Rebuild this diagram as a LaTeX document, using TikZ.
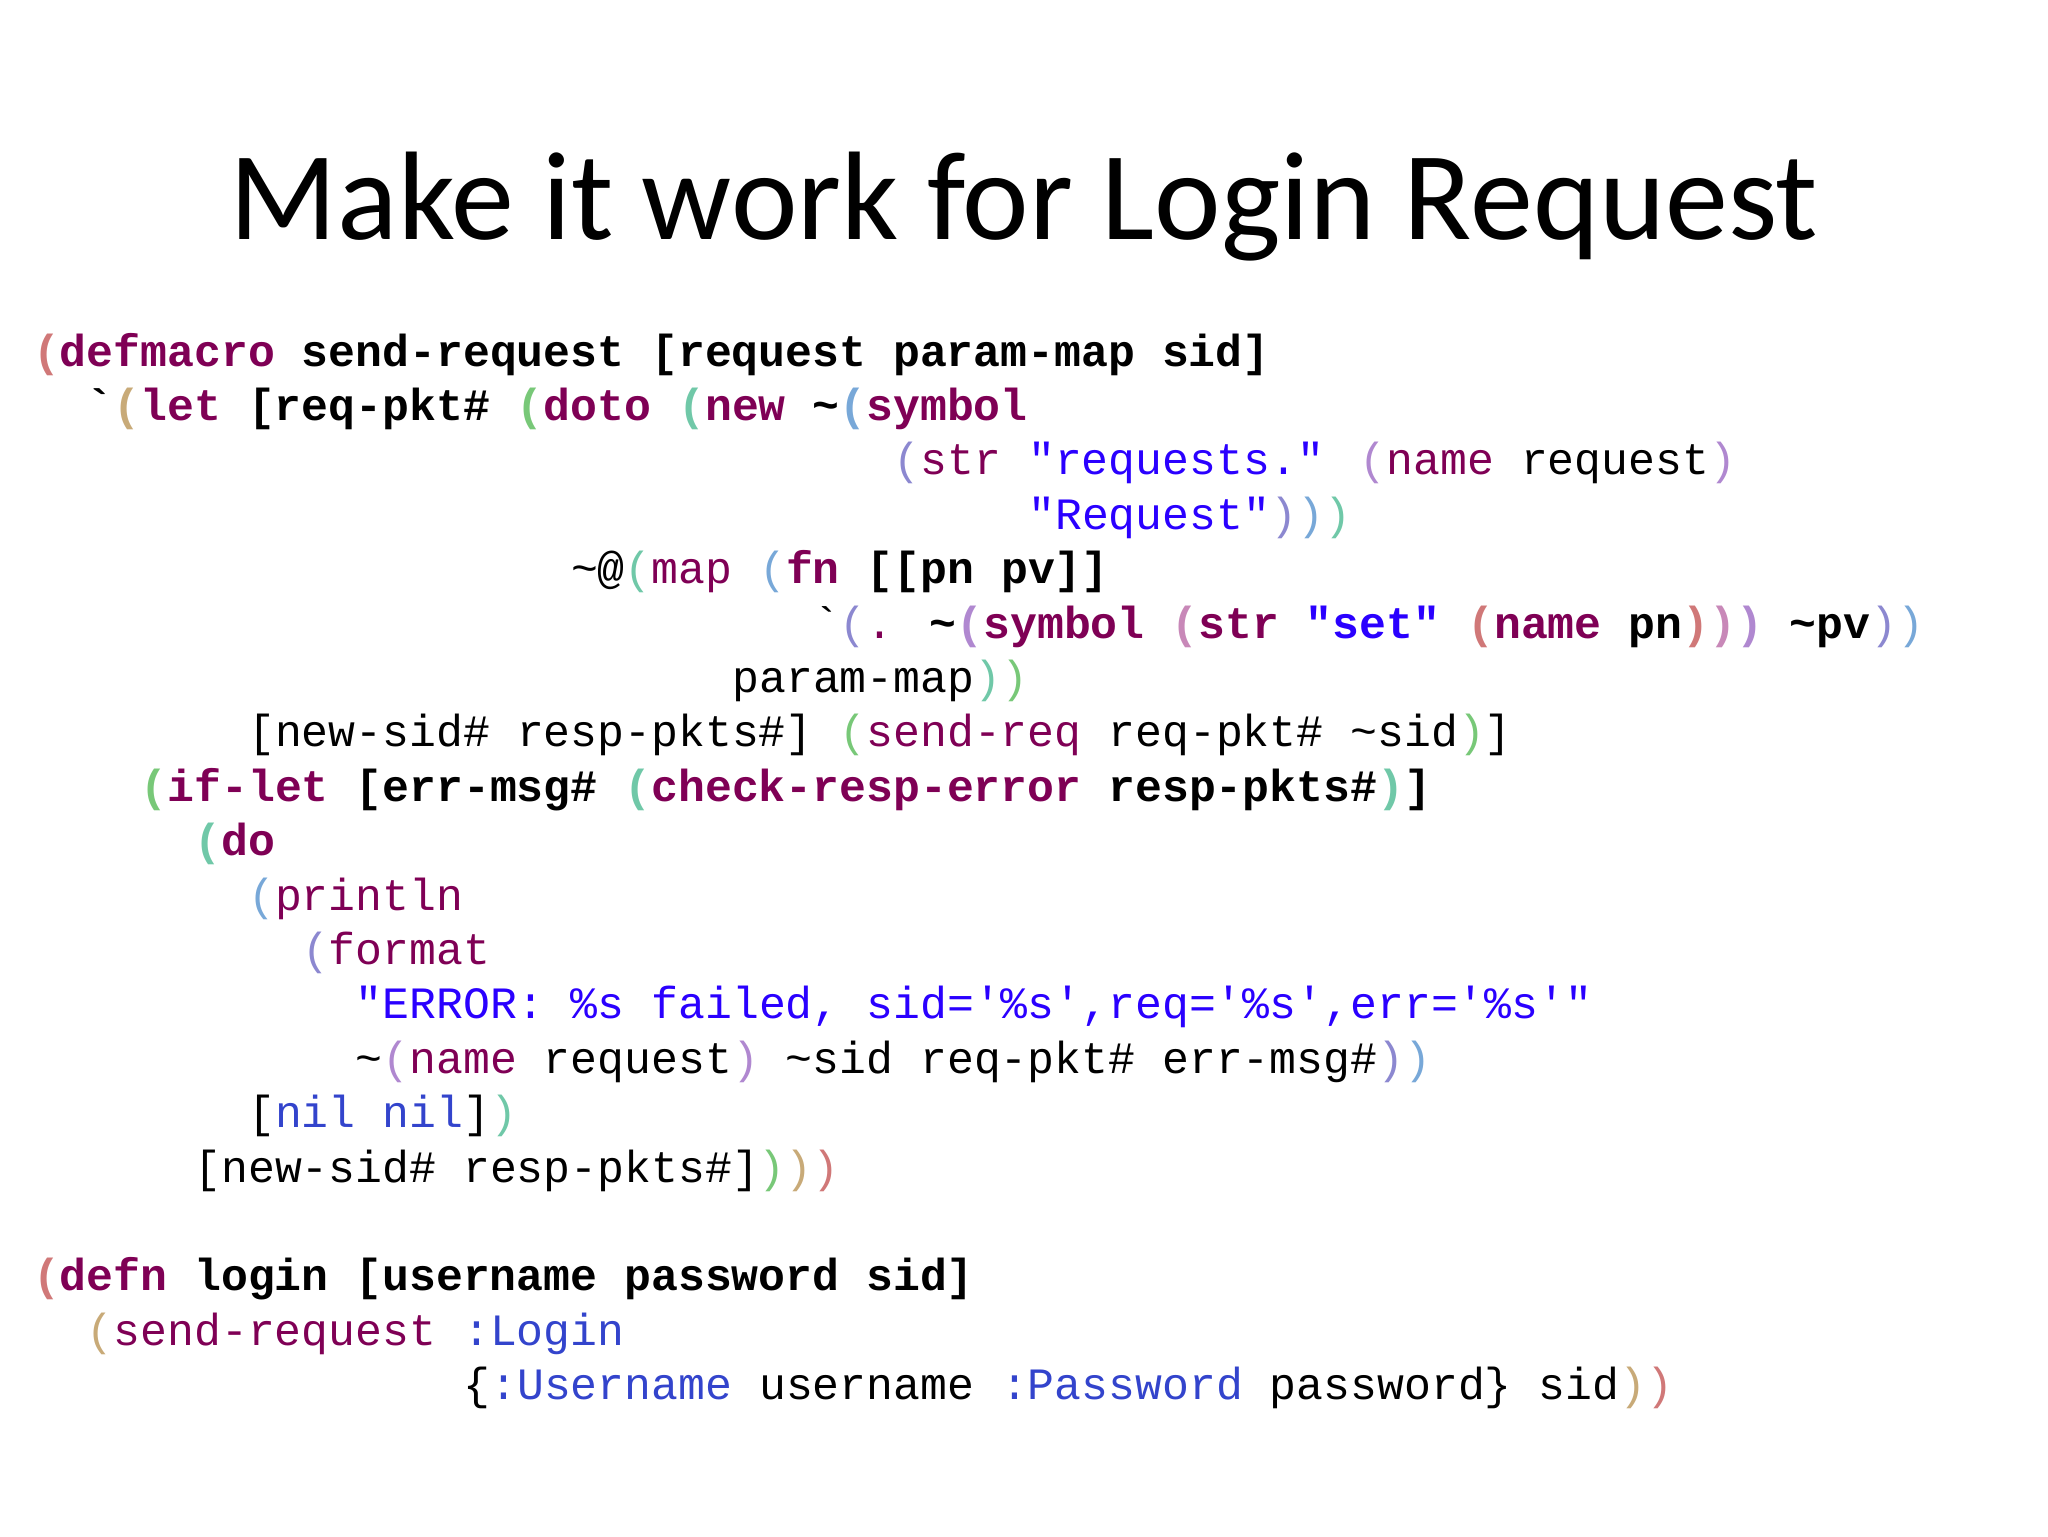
\documentclass[tikz,border=0pt]{standalone}
\usepackage{fontspec}
\setmainfont{Carlito}
\newfontfamily\codefont{Liberation Mono}[Ligatures=NoCommon]
\definecolor{kw}{HTML}{7F0055}
\definecolor{sb}{HTML}{2A00FF}
\definecolor{kb}{HTML}{3344CC}
\definecolor{cR}{HTML}{D07878}
\definecolor{cT}{HTML}{C8AA78}
\definecolor{cG}{HTML}{78C878}
\definecolor{cQ}{HTML}{70C8A8}
\definecolor{cB}{HTML}{78A8D8}
\definecolor{cV}{HTML}{8C88D0}
\definecolor{cP}{HTML}{B088D0}
\definecolor{cK}{HTML}{C888B8}
\newcommand\kwd[1]{\textcolor{kw}{#1}}
\newcommand\strg[1]{\textcolor{sb}{#1}}
\newcommand\kwb[1]{\textcolor{kb}{#1}}
\newcommand\pc[2]{\textcolor{#1}{#2}}
\newcommand\tl{\textasciitilde}
\newcommand\bq{\textasciigrave}
\newcommand\dq{\textquotedbl}
\newcommand\sq{\textquotesingle}
\tikzset{codeline/.style={anchor=base west,inner sep=0pt,font=\codefont\fontsize{22.4}{27}\selectfont}}
\newcommand\cl[3]{\node[codeline] (#1) at ({16.3pt+#2*13.45pt},{-183pt-#1*27.2pt}) {#3};}
\begin{document}
\begin{tikzpicture}
\useasboundingbox (0,0) rectangle (1024pt,-768pt);
\node[font=\fontsize{63}{70}\selectfont,anchor=base,inner sep=0pt] (title) at (512pt,-119.5pt) {Make it work for Login Request};
\cl{0}{0}{\bfseries\pc{cR}{(}\kwd{defmacro} send-request [request param-map sid]}
\cl{1}{2}{\bfseries\bq\pc{cT}{(}\kwd{let} [req-pkt\# \pc{cG}{(}\kwd{doto} \pc{cQ}{(}\kwd{new} \tl\pc{cB}{(}\kwd{symbol}}
\cl{2}{32}{\pc{cV}{(}\kwd{str} \strg{\dq requests.\dq} \pc{cP}{(}\kwd{name} request\pc{cP}{)}}
\cl{3}{37}{\strg{\dq Request\dq}\pc{cV}{)}\pc{cB}{)}\pc{cQ}{)}}
\cl{4}{20}{\tl @\pc{cQ}{(}\kwd{map} \pc{cB}{(}\textbf{\kwd{fn} [[pn pv]]}}
\cl{5}{29}{\bq\pc{cV}{(}\kwd{.} \textbf{\tl\pc{cP}{(}\kwd{symbol} \pc{cK}{(}\kwd{str} \strg{\dq set\dq} \pc{cR}{(}\kwd{name} pn\pc{cR}{)}\pc{cK}{)}\pc{cP}{)} \tl pv}\pc{cV}{)}\pc{cB}{)}}
\cl{6}{26}{param-map\pc{cQ}{)}\pc{cG}{)}}
\cl{7}{8}{[new-sid\# resp-pkts\#] \pc{cG}{(}\kwd{send-req} req-pkt\# \tl sid\pc{cG}{)}]}
\cl{8}{4}{\bfseries\pc{cG}{(}\kwd{if-let} [err-msg\# \pc{cQ}{(}\kwd{check-resp-error} resp-pkts\#\pc{cQ}{)}]}
\cl{9}{6}{\bfseries\pc{cQ}{(}\kwd{do}}
\cl{10}{8}{\pc{cB}{(}\kwd{println}}
\cl{11}{10}{\pc{cV}{(}\kwd{format}}
\cl{12}{12}{\strg{\dq ERROR: \%s failed, sid=\sq\%s\sq,req=\sq\%s\sq,err=\sq\%s\sq\dq}}
\cl{13}{12}{\tl\pc{cP}{(}\kwd{name} request\pc{cP}{)} \tl sid req-pkt\# err-msg\#\pc{cV}{)}\pc{cB}{)}}
\cl{14}{8}{[\kwb{nil nil}]\pc{cQ}{)}}
\cl{15}{6}{[new-sid\# resp-pkts\#]\pc{cG}{)}\pc{cT}{)}\pc{cR}{)}}
\cl{17}{0}{\bfseries\pc{cR}{(}\kwd{defn} login [username password sid]}
\cl{18}{2}{\pc{cT}{(}\kwd{send-request} \kwb{:Login}}
\cl{19}{16}{\{\kwb{:Username} username \kwb{:Password} password\} sid\pc{cT}{)}\pc{cR}{)}}
\end{tikzpicture}
\end{document}
